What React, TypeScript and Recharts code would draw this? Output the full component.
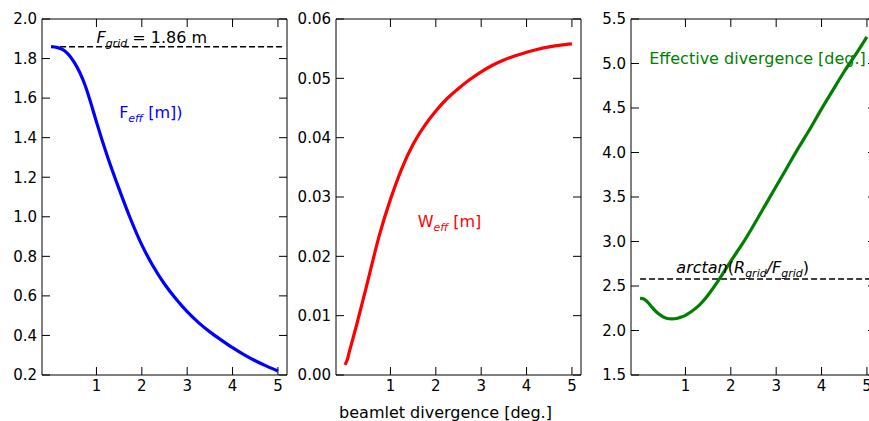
import React from "react"
import {
  LineChart,
  Line,
  XAxis,
  YAxis,
  ReferenceLine,
  ReferenceDot,
  ReferenceArea,
} from "recharts"

// effective focal length vs beamlet divergence
const fEffX = [0, 0.25, 0.5, 0.75, 1.0, 1.25, 1.5, 1.75, 2.0, 2.25, 2.5, 2.75, 3.0, 3.25, 3.5, 3.75, 4.0, 4.25, 4.5, 4.75, 5.0]
const fEffY = [1.86, 1.846, 1.785, 1.665, 1.48, 1.3, 1.14, 0.99, 0.858, 0.75, 0.66, 0.585, 0.52, 0.465, 0.418, 0.377, 0.338, 0.303, 0.272, 0.245, 0.22]

// effective width
const wEffX = [0, 0.05, 0.1, 0.25, 0.5, 0.75, 1.0, 1.25, 1.5, 1.75, 2.0, 2.25, 2.5, 2.75, 3.0, 3.25, 3.5, 3.75, 4.0, 4.25, 4.5, 4.75, 5.0]
const wEffY = [0.0017, 0.0026, 0.0041, 0.0083, 0.0158, 0.0234, 0.0296, 0.0348, 0.0389, 0.042, 0.0445, 0.0466, 0.0483, 0.0498, 0.0511, 0.0522, 0.0531, 0.0538, 0.0544, 0.0549, 0.0553, 0.0556, 0.0558]

// effective divergence
const divX = [0, 0.1, 0.2, 0.3, 0.4, 0.5, 0.6, 0.7, 0.8, 0.9, 1.0, 1.25, 1.5, 1.75, 2.0, 2.25, 2.5, 2.75, 3.0, 3.25, 3.5, 3.75, 4.0, 4.25, 4.5, 4.75, 5.0]
const divY = [2.36, 2.35, 2.3, 2.24, 2.19, 2.155, 2.135, 2.13, 2.135, 2.15, 2.17, 2.26, 2.4, 2.58, 2.78, 2.97, 3.18, 3.4, 3.62, 3.84, 4.06, 4.27, 4.49, 4.7, 4.91, 5.1, 5.3]

const xTicks = [1, 2, 3, 4, 5]
const fTicks = [0.2, 0.4, 0.6, 0.8, 1.0, 1.2, 1.4, 1.6, 1.8, 2.0]
const wTicks = [0, 0.01, 0.02, 0.03, 0.04, 0.05, 0.06]
const dTicks = [1.5, 2.0, 2.5, 3.0, 3.5, 4.0, 4.5, 5.0, 5.5]

const fGrid = 1.86
const arctanRF = 2.58

const toRows = (xs: number[], ys: number[]) => xs.map((x, i) => ({ x, y: ys[i] }))

const FONT = "DejaVu Sans"
const W = 295
const H = 421
const TOP = 19
const RIGHT = 8
const Y_AXIS_W = 42
const X_AXIS_H = 46
const PLOT_W = W - Y_AXIS_W - RIGHT
const PLOT_H = H - TOP - X_AXIS_H
const X_DOMAIN: [number, number] = [-0.2, 5.2]
const GAP = 5
const LEN = 8
const margin = { top: TOP, right: RIGHT, bottom: 0, left: 0 }

const XTick = (p: any) => (
  <text x={p.x} y={p.y} dy="0.71em" textAnchor="middle" fontSize={15} fontFamily={FONT} fill="#000">
    {String(p.payload.value)}
  </text>
)

const makeYTick = (digits: number) => (p: any) => (
  <text x={p.x} y={p.y} dy="0.355em" textAnchor="end" fontSize={15} fontFamily={FONT} fill="#000">
    {Number(p.payload.value).toFixed(digits)}
  </text>
)

// short inward tick marks on all four sides of the box
function tickMarks(yDomain: [number, number], yTicks: number[]) {
  const [x0, x1] = X_DOMAIN
  const [y0, y1] = yDomain
  const dy = (LEN * (y1 - y0)) / PLOT_H
  const dx = (LEN * (x1 - x0)) / PLOT_W
  const segs: { x: number; y: number }[][] = []
  xTicks.forEach((t) => {
    segs.push([{ x: t, y: y0 }, { x: t, y: y0 + dy }])
    segs.push([{ x: t, y: y1 }, { x: t, y: y1 - dy }])
  })
  yTicks.forEach((v) => {
    segs.push([{ x: x0, y: v }, { x: x0 + dx, y: v }])
    segs.push([{ x: x1, y: v }, { x: x1 - dx, y: v }])
  })
  return segs.map((s, i) => (
    <ReferenceLine key={"tick" + i} segment={s} stroke="#000" strokeWidth={1} ifOverflow="visible" />
  ))
}

// axes plus a closed box round the plot
function frame(yDomain: [number, number], yTicks: number[], digits: number) {
  return [
    <XAxis key="x" type="number" dataKey="x" domain={X_DOMAIN} ticks={xTicks} interval={0}
      allowDataOverflow height={X_AXIS_H} axisLine={false} tickLine={false} tickSize={0} tickMargin={GAP}
      tick={XTick} />,
    <YAxis key="y" type="number" dataKey="y" domain={yDomain} ticks={yTicks} interval={0}
      allowDataOverflow width={Y_AXIS_W} axisLine={false} tickLine={false} tickSize={0} tickMargin={GAP}
      tick={makeYTick(digits)} />,
    <ReferenceArea key="box" x1={X_DOMAIN[0]} x2={X_DOMAIN[1]} y1={yDomain[0]} y2={yDomain[1]}
      fill="none" fillOpacity={0} stroke="#000" strokeWidth={1} ifOverflow="visible" />,
    ...tickMarks(yDomain, yTicks),
  ]
}

const Sub = ({ children }: { children: React.ReactNode }) => (
  <tspan fontStyle="italic" fontSize={11} dy={4}>{children}</tspan>
)

export default function App() {
  return (
    <div style={{ position: "absolute", left: 0, top: 0, width: 869, height: 421, overflow: "hidden", background: "#fff", fontFamily: FONT }}>
      <div style={{ position: "absolute", left: 0, top: 0 }}>
        <LineChart width={W} height={H} data={toRows(fEffX, fEffY)} margin={margin}>
          {frame([0.2, 2.0], fTicks, 1)}
          <ReferenceLine segment={[{ x: 0, y: fGrid }, { x: 5.1, y: fGrid }]} stroke="#000" strokeWidth={1.5} strokeDasharray="6 3" />
          <Line type="natural" dataKey="y" stroke="#0000ff" strokeWidth={3.2} dot={false} isAnimationActive={false} />
          <ReferenceDot x={1.0} y={1.88} r={0} shape={(p: any) => (
            <text x={p.cx} y={p.cy} fontSize={16} fontFamily={FONT} fill="#000">
              <tspan fontStyle="italic">F</tspan><Sub>grid</Sub><tspan dy={-4}> = 1.86 m</tspan>
            </text>
          )} />
          <ReferenceDot x={1.5} y={1.5} r={0} shape={(p: any) => (
            <text x={p.cx} y={p.cy} fontSize={16} fontFamily={FONT} fill="#0000ff">
              F<Sub>eff</Sub><tspan dy={-4}> [m])</tspan>
            </text>
          )} />
        </LineChart>
      </div>
      <div style={{ position: "absolute", left: 294, top: 0 }}>
        <LineChart width={W} height={H} data={toRows(wEffX, wEffY)} margin={margin}>
          {frame([0, 0.06], wTicks, 2)}
          <Line type="natural" dataKey="y" stroke="#ff0000" strokeWidth={3.2} dot={false} isAnimationActive={false} />
          <ReferenceDot x={1.6} y={0.025} r={0} shape={(p: any) => (
            <text x={p.cx} y={p.cy} fontSize={16} fontFamily={FONT} fill="#ff0000">
              W<Sub>eff</Sub><tspan dy={-4}> [m]</tspan>
            </text>
          )} />
        </LineChart>
      </div>
      <div style={{ position: "absolute", left: 589, top: 0 }}>
        <LineChart width={W} height={H} data={toRows(divX, divY)} margin={margin}>
          {frame([1.5, 5.5], dTicks, 1)}
          <ReferenceLine segment={[{ x: 0, y: arctanRF }, { x: 5.2, y: arctanRF }]} stroke="#000" strokeWidth={1.5} strokeDasharray="6 3" />
          <Line type="natural" dataKey="y" stroke="#008000" strokeWidth={3.2} dot={false} isAnimationActive={false} />
          <ReferenceDot x={0.2} y={5.0} r={0} shape={(p: any) => (
            <text x={p.cx} y={p.cy} fontSize={16} fontFamily={FONT} fill="#008000">
              Effective divergence [deg.]
            </text>
          )} />
          <ReferenceDot x={0.8} y={2.65} r={0} shape={(p: any) => (
            <text x={p.cx} y={p.cy} fontSize={16} fontFamily={FONT} fill="#000" fontStyle="italic">
              arctan<tspan fontStyle="normal">(</tspan>R<Sub>grid</Sub><tspan dy={-4}>/F</tspan><Sub>grid</Sub><tspan dy={-4} fontStyle="normal">)</tspan>
            </text>
          )} />
        </LineChart>
      </div>
      <div style={{ position: "absolute", left: 325, top: 405, width: 241, textAlign: "center", fontSize: 16, lineHeight: "16px", whiteSpace: "nowrap", color: "#000" }}>
        beamlet divergence [deg.]
      </div>
    </div>
  )
}
